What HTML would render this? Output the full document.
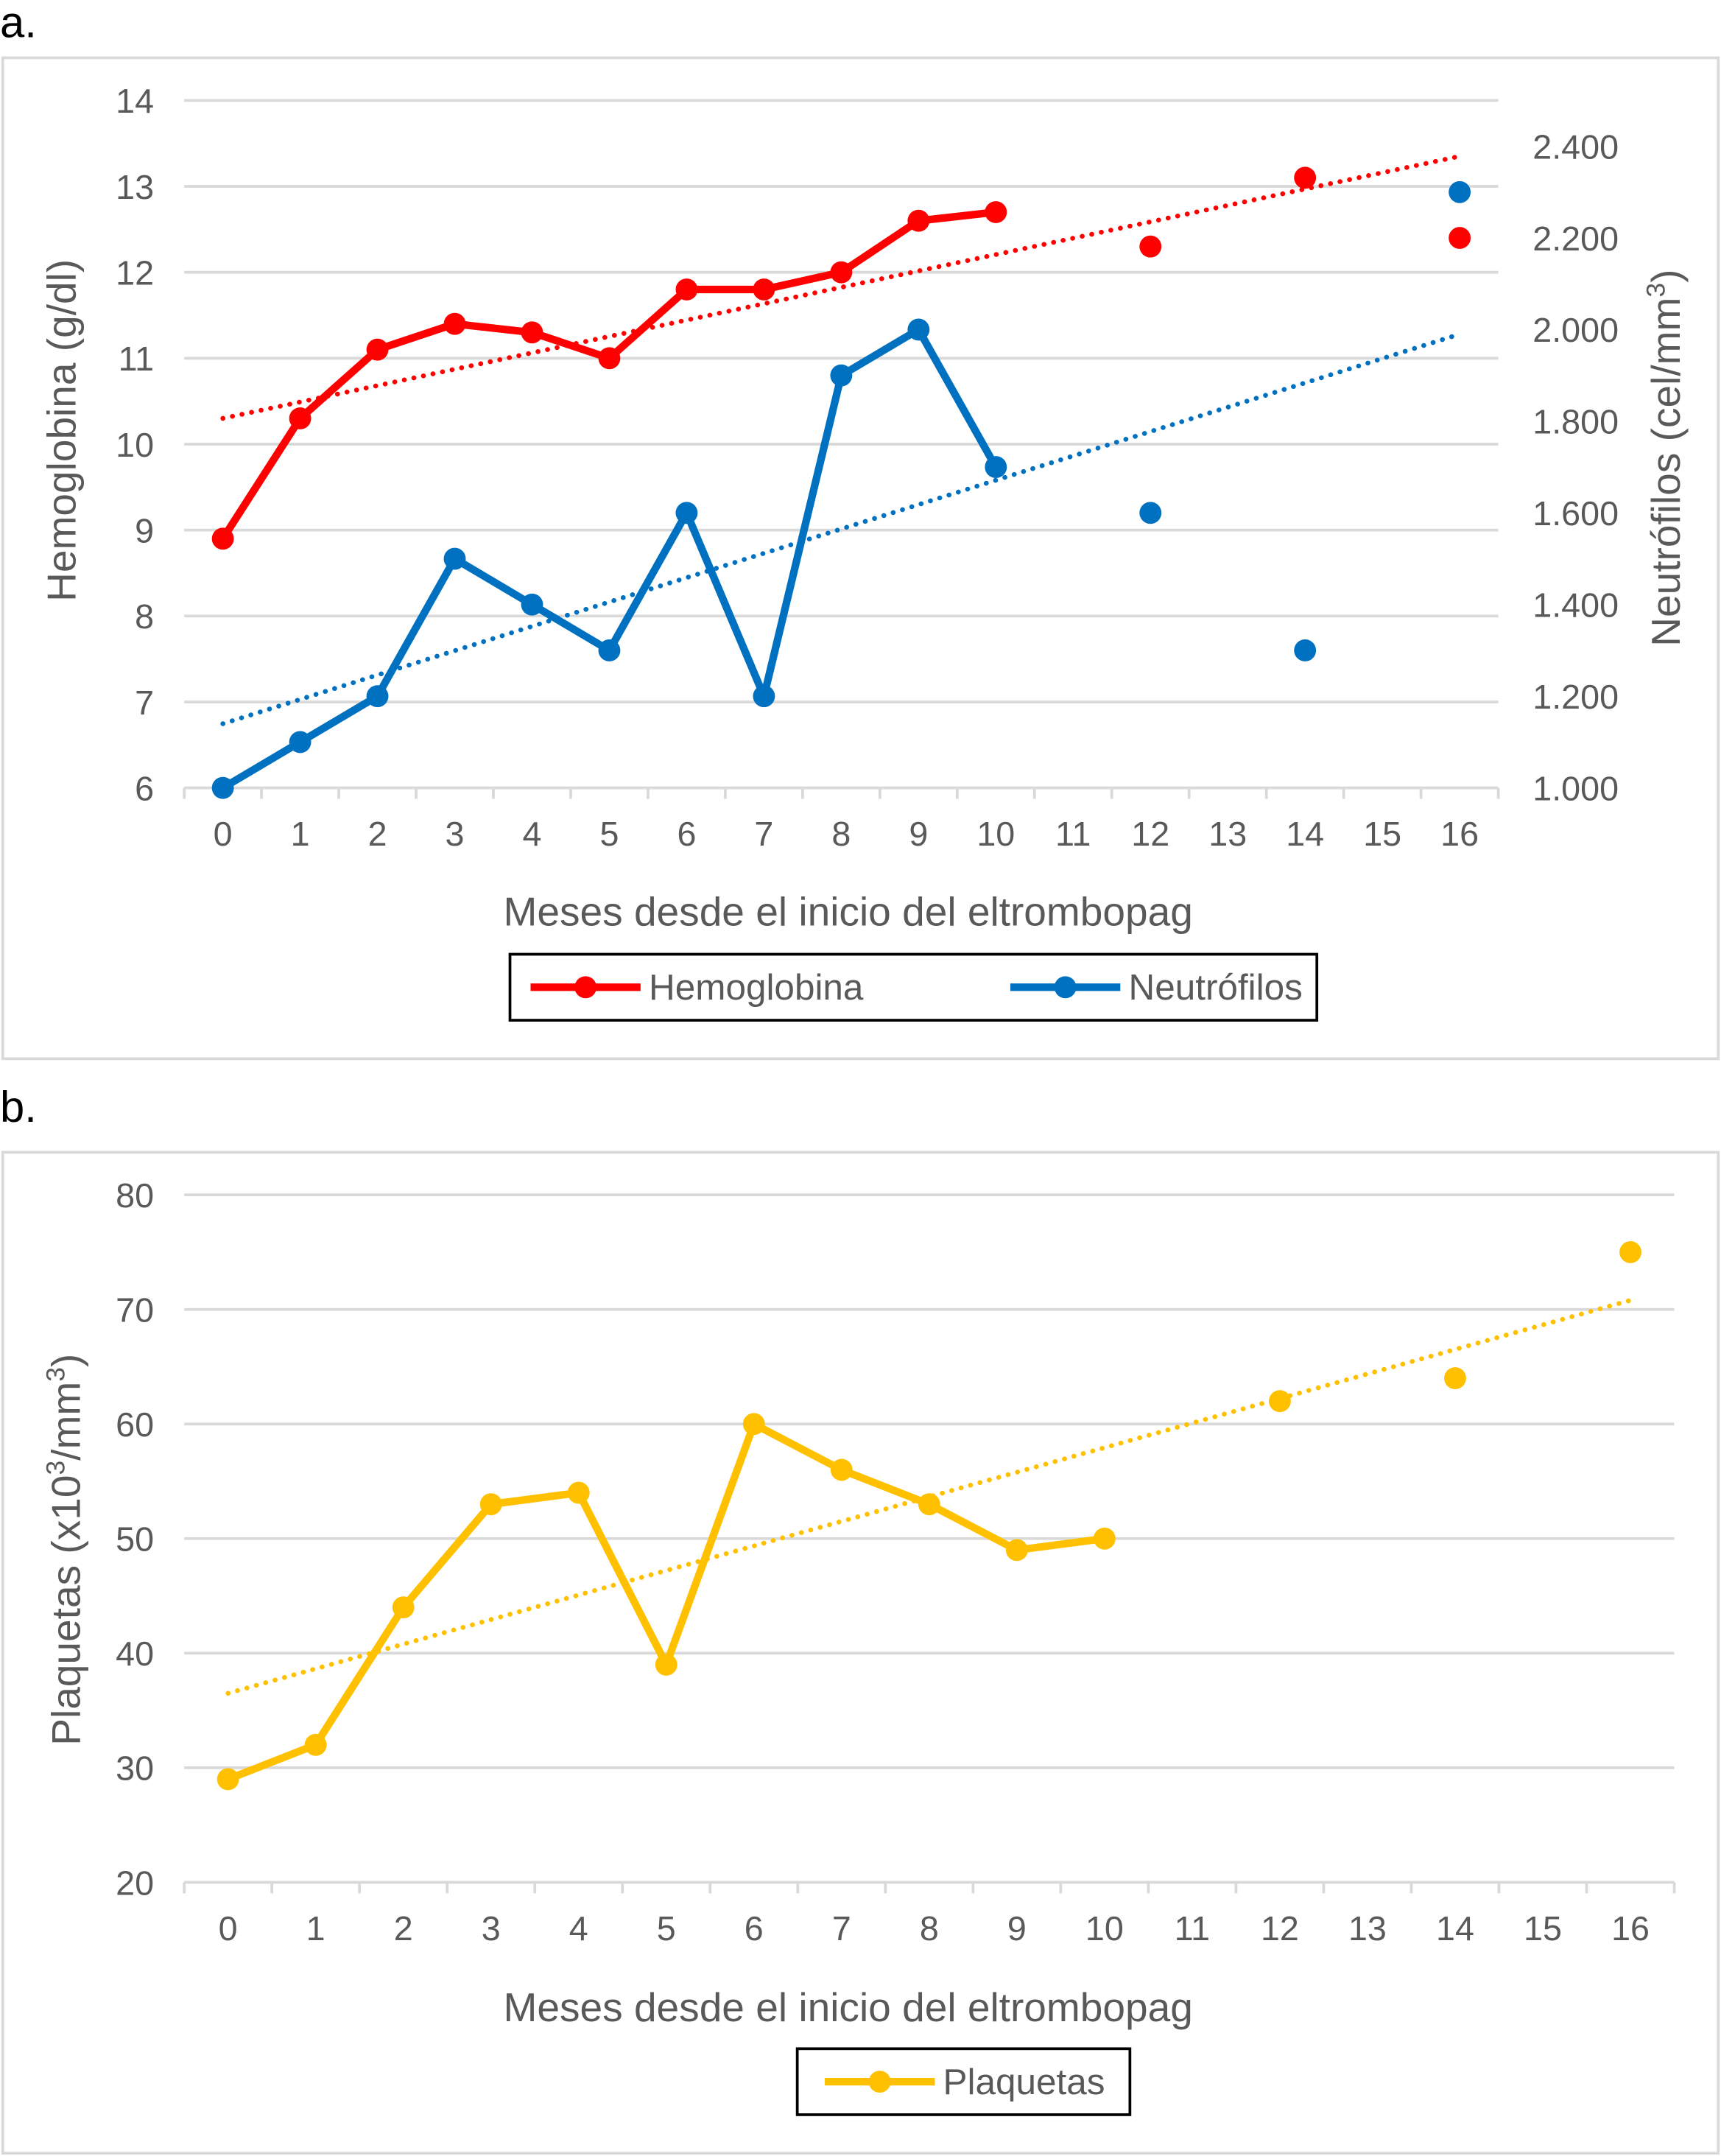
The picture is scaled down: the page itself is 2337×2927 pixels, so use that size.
<!DOCTYPE html>
<html><head><meta charset="utf-8"><style>
html,body{margin:0;padding:0;background:#fff;}
svg{display:block;font-family:"Liberation Sans",sans-serif;}
</style></head><body>
<svg id="root" width="2337" height="2927" viewBox="0 0 1252 1568" xmlns="http://www.w3.org/2000/svg">
<text x="0" y="27" font-size="32" fill="#000">a.</text>
<text x="0" y="816" font-size="32" fill="#000">b.</text>
<rect x="2" y="42" width="1248" height="728" fill="#fff" stroke="#d9d9d9" stroke-width="2"/>
<rect x="2" y="838" width="1248" height="728" fill="#fff" stroke="#d9d9d9" stroke-width="2"/>
<g id="ga"></g>
<g id="gb"></g>
</svg>
<script>
const categories=["0","1","2","3","4","5","6","7","8","9","10","11","12","13","14","15","16"];
const hemoglobina=[8.9,10.3,11.1,11.4,11.3,11.0,11.8,11.8,12.0,12.6,12.7,null,12.3,null,13.1,null,12.4];
const neutrofilos=[1000,1100,1200,1500,1400,1300,1600,1200,1900,2000,1700,null,1600,null,1300,null,2300];
const plaquetas=[29,32,44,53,54,39,60,56,53,49,50,null,62,null,64,null,75];
const hbTrend=[10.3,13.35];
const neTrend=[1140,1990];
const plTrend=[36.5,70.8];
const hbTicks=[6,7,8,9,10,11,12,13,14];
const neTicks=[1000,1200,1400,1600,1800,2000,2200,2400];
const plTicks=[20,30,40,50,60,70,80];

const NS="http://www.w3.org/2000/svg";
function mk(parent,tag,attrs,text){const e=document.createElementNS(NS,tag);for(const k in attrs)e.setAttribute(k,attrs[k]);if(text!==undefined)e.textContent=text;parent.appendChild(e);return e;}
function fmt(v){return String(v).replace(/(\d)(\d{3})$/,"$1.$2");}
const GRAY="#595959",GRID="#d9d9d9";

function drawChart(g,cfg){
  const {x0,x1,y0,y1,lmin,lmax}=cfg;
  const n=categories.length,bw=(x1-x0)/n;
  const xs=i=>x0+bw*(i+0.5);
  const yl=v=>y1-(v-lmin)/(lmax-lmin)*(y1-y0);
  cfg.leftTicks.forEach(t=>{
    if(t!==lmin){const l=mk(g,"line",{x1:x0,x2:x1,y1:yl(t),y2:yl(t),stroke:GRID,"stroke-width":2});
    
    }
    const tx=mk(g,"text",{x:x0-22,y:yl(t)+9,"font-size":25,fill:GRAY,"text-anchor":"end"},String(t));
    
    
  });
  const ax=mk(g,"line",{x1:x0,x2:x1,y1:y1,y2:y1,stroke:GRID,"stroke-width":2});
  
  
  for(let i=0;i<=n;i++){const tk=mk(g,"line",{x1:x0+bw*i,x2:x0+bw*i,y1:y1,y2:y1+8,stroke:GRID,"stroke-width":2});
    
    }
  categories.forEach((c,i)=>{const t=mk(g,"text",{x:xs(i),y:y1+42,"font-size":25,fill:GRAY,"text-anchor":"middle"},c);
    
    });
  return {xs,yl};
}
function series(g,vals,xs,ys,color,name,trend){
  const tl=mk(g,"line",{x1:xs(0),x2:xs(categories.length-1),y1:ys(trend[0]),y2:ys(trend[1]),stroke:color,"stroke-width":3.5,"stroke-dasharray":"0.1 7","stroke-linecap":"round"});
  
  
  let d="";
  for(let i=0;i<=10;i++){if(vals[i]!=null)d+=(d?"L":"M")+xs(i)+","+ys(vals[i]);}
  const p=mk(g,"path",{d:d,fill:"none",stroke:color,"stroke-width":5.5,"stroke-linejoin":"round"});
  
  
  vals.forEach((v,i)=>{if(v==null)return;const c=mk(g,"circle",{cx:xs(i),cy:ys(v),r:8,fill:color});
    
    });
}
const ga=document.getElementById('ga');
const A=drawChart(ga,{x0:134,x1:1090,y0:73,y1:573,lmin:6,lmax:14,leftTicks:hbTicks});
const yr=v=>573-(v-1000)/1500*500;
neTicks.forEach(t=>{const tx=mk(ga,"text",{x:1115,y:yr(t)+9,"font-size":25,fill:GRAY},fmt(t));
  
  });
series(ga,neutrofilos,A.xs,yr,"#0070c0","neutrofilos",neTrend);
series(ga,hemoglobina,A.xs,A.yl,"#ff0000","hemoglobina",hbTrend);
let t=mk(ga,"text",{x:0,y:0,"font-size":29.5,fill:GRAY,"text-anchor":"middle",transform:"translate(55,313) rotate(-90)"},"Hemoglobina (g/dl)");

t=mk(ga,"text",{x:0,y:0,"font-size":29.5,fill:GRAY,"text-anchor":"middle",transform:"translate(1222,333) rotate(-90)"});
t.innerHTML='Neutrófilos (cel/mm<tspan dy="-11" font-size="19">3</tspan><tspan dy="11">)</tspan>';

t=mk(ga,"text",{x:617,y:673,"font-size":29.5,fill:GRAY,"text-anchor":"middle"},"Meses desde el inicio del eltrombopag");

let lg=mk(ga,"g",{});
mk(lg,"rect",{x:371,y:694,width:587,height:48,fill:"#fff",stroke:"#000","stroke-width":2});
mk(lg,"line",{x1:386,x2:466,y1:718,y2:718,stroke:"#ff0000","stroke-width":5.5});
mk(lg,"circle",{cx:426,cy:718,r:8,fill:"#ff0000"});
t=mk(lg,"text",{x:472,y:727,"font-size":26.5,fill:GRAY},"Hemoglobina");

mk(lg,"line",{x1:735,x2:815,y1:718,y2:718,stroke:"#0070c0","stroke-width":5.5});
mk(lg,"circle",{cx:775,cy:718,r:8,fill:"#0070c0"});
t=mk(lg,"text",{x:821,y:727,"font-size":26.5,fill:GRAY},"Neutrófilos");

const gb=document.getElementById('gb');
const B=drawChart(gb,{x0:134,x1:1218,y0:869,y1:1369,lmin:20,lmax:80,leftTicks:plTicks});
series(gb,plaquetas,B.xs,B.yl,"#ffc000","plaquetas",plTrend);
t=mk(gb,"text",{x:0,y:0,"font-size":29.5,fill:GRAY,"text-anchor":"middle",transform:"translate(58,1127) rotate(-90)"});
t.innerHTML='Plaquetas (x10<tspan dy="-11" font-size="19">3</tspan><tspan dy="11">/mm</tspan><tspan dy="-11" font-size="19">3</tspan><tspan dy="11">)</tspan>';

t=mk(gb,"text",{x:617,y:1470,"font-size":29.5,fill:GRAY,"text-anchor":"middle"},"Meses desde el inicio del eltrombopag");

lg=mk(gb,"g",{});
mk(lg,"rect",{x:580,y:1490,width:242,height:48,fill:"#fff",stroke:"#000","stroke-width":2});
mk(lg,"line",{x1:600,x2:680,y1:1514,y2:1514,stroke:"#ffc000","stroke-width":5.5});
mk(lg,"circle",{cx:640,cy:1514,r:8,fill:"#ffc000"});
t=mk(lg,"text",{x:686,y:1523,"font-size":26.5,fill:GRAY},"Plaquetas");

</script>
</body></html>
